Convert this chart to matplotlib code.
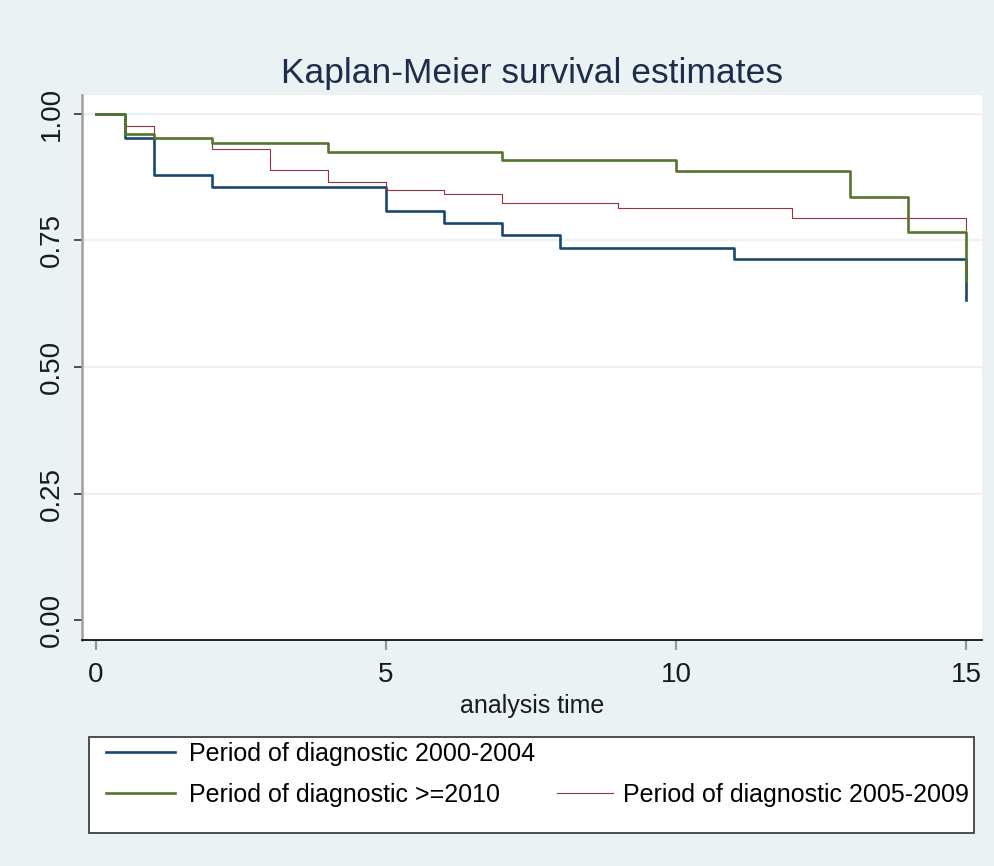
import matplotlib
matplotlib.use("Agg")
import matplotlib.pyplot as plt
from matplotlib.patches import Rectangle

# Kaplan-Meier step estimates
t_2000 = [0, 0.5, 1, 2, 5, 6, 7, 8, 11, 15]
s_2000 = [1.0, 0.952, 0.880, 0.855, 0.809, 0.784, 0.761, 0.736, 0.713, 0.632]

t_2010 = [0, 0.5, 1, 2, 4, 7, 10, 13, 14, 15]
s_2010 = [1.0, 0.960, 0.952, 0.943, 0.924, 0.909, 0.887, 0.835, 0.767, 0.669]

t_2005 = [0, 0.5, 1, 2, 3, 4, 5, 6, 7, 9, 12, 15]
s_2005 = [1.0, 0.976, 0.952, 0.930, 0.890, 0.866, 0.849, 0.842, 0.825, 0.814, 0.794, 0.771]

labels = ["Period of diagnostic 2000-2004",
          "Period of diagnostic >=2010",
          "Period of diagnostic 2005-2009"]
x_ticks = [0, 5, 10, 15]
y_ticks = [0.0, 0.25, 0.5, 0.75, 1.0]

blue = "#1a476f"
green = "#55752f"
red = "#90353b"
bg = "#eaf2f3"

plt.rcParams["font.family"] = ["Liberation Sans", "DejaVu Sans"]

fig = plt.figure(figsize=(9.95, 8.66), dpi=100, facecolor=bg)
ax = fig.add_axes([82 / 995, 1 - 640 / 866, 900 / 995, 545 / 866])
ax.set_facecolor("white")

l1, = ax.step(t_2000, s_2000, where="post", color=blue, lw=1.9)
l3, = ax.step(t_2005, s_2005, where="post", color=red, lw=0.8)
l2, = ax.step(t_2010, s_2010, where="post", color=green, lw=1.9)

ax.set_xlim(-0.241, 15.276)
ax.set_ylim(-0.0395, 1.0375)
ax.set_xticks(x_ticks)
ax.set_yticks(y_ticks)
ax.set_yticklabels([f"{v:.2f}" for v in y_ticks], rotation=90, va="center")

ax.tick_params(axis="x", length=7, width=1.6, color="#999999",
               labelsize=20, labelcolor="#1a1a1a", pad=9)
ax.tick_params(axis="y", length=6, width=1.1, color="#222222",
               labelsize=20, labelcolor="#1a1a1a", pad=6)

ax.grid(axis="y", color=bg, lw=1.6)
ax.yaxis.get_gridlines()[0].set_visible(False)
ax.set_axisbelow(True)

for side in ["top", "right"]:
    ax.spines[side].set_visible(False)
ax.spines["left"].set_color("#a0a0a0")
ax.spines["left"].set_linewidth(1.8)
ax.spines["bottom"].set_color("#111111")
ax.spines["bottom"].set_linewidth(1.3)

ax.set_xlabel("analysis time", fontsize=18, color="#1a1a1a", labelpad=4)
ax.set_title("Kaplan-Meier survival estimates", fontsize=25.5, color="#1f2d4d",
             pad=9)

# legend box and entries
fig.add_artist(Rectangle((89 / 995, 1 - 833 / 866), 885 / 995, 96 / 866,
                         transform=fig.transFigure, facecolor="white",
                         edgecolor="#404040", lw=1.3))
leg_a = fig.legend([l1, l2], labels[:2], loc="center left",
                   bbox_to_anchor=(106 / 995, 1 - 774.5 / 866),
                   frameon=False, fontsize=18, borderpad=0, borderaxespad=0,
                   handlelength=2.76, handletextpad=0.55, labelspacing=0.69)
leg_b = fig.legend([l3], labels[2:], loc="center left",
                   bbox_to_anchor=(557 / 995, 1 - 795 / 866),
                   frameon=False, fontsize=18, borderpad=0, borderaxespad=0,
                   handlelength=2.24, handletextpad=0.4)

fig.savefig("out.png", dpi=100, facecolor=bg)
